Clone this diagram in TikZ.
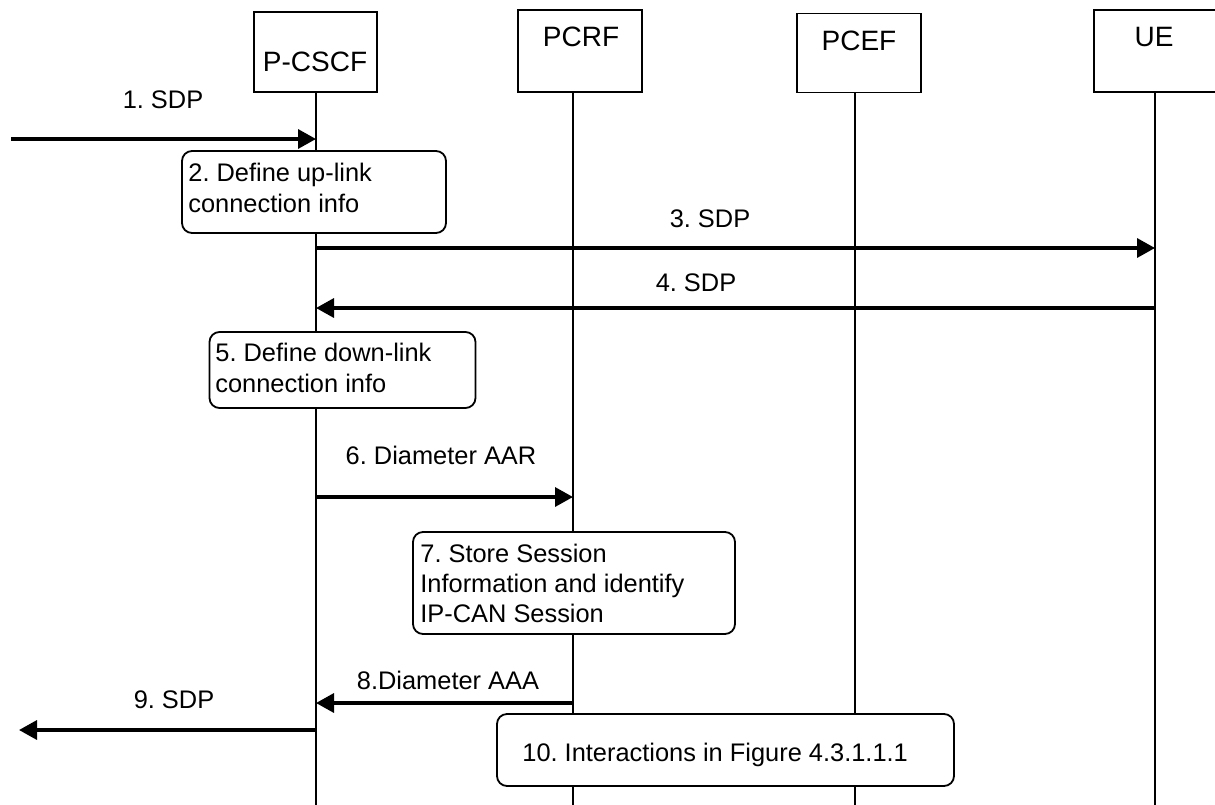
\documentclass[tikz,border=0pt]{standalone}
\usepackage{fontspec}
\setmainfont{Liberation Sans}
\usetikzlibrary{arrows.meta}
\frenchspacing
\begin{document}
\begin{tikzpicture}[x=0.5pt,y=-0.5pt,
  head/.style={draw,line width=0.9pt,fill=white,inner sep=0pt},
  headtxt/.style={font=\fontsize{14}{16}\selectfont,inner sep=0pt},
  life/.style={line width=0.8pt},
  msg/.style={line width=1.7pt,-{Triangle[length=9pt,width=9.5pt]}},
  lbl/.style={font=\fontsize{12.7}{15}\selectfont,inner sep=0pt},
  stepbox/.style={draw,line width=0.9pt,fill=white,rounded corners=5pt,inner sep=0pt},
  steptxt/.style={font=\fontsize{12.7}{15.5}\selectfont,align=left,inner sep=0pt,anchor=north west}]
\useasboundingbox (0,0) rectangle (1215,804);
% heads
\node[head,minimum width=61.5pt,minimum height=40pt] (pcscf) at (315.5,52) {};
\node[head,minimum width=62pt,minimum height=41pt] (pcrf) at (580,51) {};
\node[head,minimum width=62pt,minimum height=39.5pt] (pcef) at (859,53) {};
\node[head,minimum width=61.5pt,minimum height=41pt] (ue) at (1155.5,51) {};
\node[headtxt] (tpcscf) at (315,62) {P-CSCF};
\node[headtxt] (tpcrf) at (581,37) {PCRF};
\node[headtxt] (tpcef) at (859,41) {PCEF};
\node[headtxt] (tue) at (1154,37) {UE};
% lifeline ends
\coordinate (pcscfEnd) at (316,806);
\coordinate (pcrfEnd) at (573,806);
\coordinate (pcefEnd) at (855,806);
\coordinate (ueEnd) at (1155,806);
\draw[life] (pcscf.south -| pcscfEnd) -- (pcscfEnd);
\draw[life] (pcrf.south -| pcrfEnd) -- (pcrfEnd);
\draw[life] (pcef.south -| pcefEnd) -- (pcefEnd);
\draw[life] (ue.south -| ueEnd) -- (ueEnd);
% message 1
\coordinate (in1) at (11,139);
\draw[msg] (in1) -- (in1 -| pcscfEnd);
\node[lbl] (l1) at (163,100) {1. SDP};
% box 2
\node[stepbox,minimum width=132pt,minimum height=41pt] (b2) at (314,192) {};
\node[steptxt] (t2) at (188,163) {2. Define up-link\\connection info};
% message 3
\coordinate (y3) at (0,248);
\draw[msg] (y3 -| pcscfEnd) -- (y3 -| ueEnd);
\node[lbl] (l3) at (710,219) {3. SDP};
% message 4
\coordinate (y4) at (0,308);
\draw[msg] (y4 -| ueEnd) -- (y4 -| pcscfEnd);
\node[lbl] (l4) at (696,283) {4. SDP};
% box 5
\node[stepbox,minimum width=133pt,minimum height=38pt] (b5) at (342.5,370) {};
\node[steptxt] (t5) at (215,343) {5. Define down-link\\connection info};
% message 6
\coordinate (y6) at (0,497);
\draw[msg] (y6 -| pcscfEnd) -- (y6 -| pcrfEnd);
\node[lbl] (l6) at (441,455) {6. Diameter AAR};
% box 7
\node[stepbox,minimum width=161pt,minimum height=51pt] (b7) at (574,583) {};
\node[steptxt,font=\fontsize{12.7}{14.8}\selectfont] (t7) at (420,544) {7. Store Session\\Information and identify\\IP-CAN Session};
% message 8
\coordinate (y8) at (0,703);
\draw[msg] (y8 -| pcrfEnd) -- (y8 -| pcscfEnd);
\node[lbl] (l8) at (448,680) {8.Diameter AAA};
% message 9
\coordinate (out9) at (19,730);
\draw[msg] (out9 -| pcscfEnd) -- (out9);
\node[lbl] (l9) at (174,700) {9. SDP};
% box 10
\node[stepbox,minimum width=228.5pt,minimum height=36pt] (b10) at (725.5,750) {};
\node[lbl,anchor=west] (t10) at (522,755) {10. Interactions in Figure 4.3.1.1.1};
\end{tikzpicture}
\end{document}
